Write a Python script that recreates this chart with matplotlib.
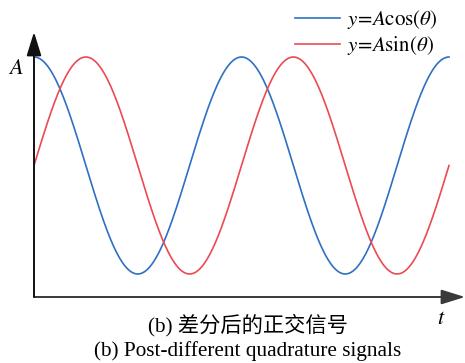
import numpy as np
import matplotlib
matplotlib.use("Agg")
import matplotlib.pyplot as plt

# data
A = 1.0
n_periods = 2
theta = np.linspace(0, 2 * np.pi * n_periods, 400)
y_cos = A * np.cos(theta)
y_sin = A * np.sin(theta)
labels = [r"$y\!=\!A\mathrm{cos}(\theta)$", r"$y\!=\!A\mathrm{sin}(\theta)$"]
colors = ["#2f6fc4", "#ec4a52"]
caption_cn = "(b) 差分后的正交信号"
caption_en = "(b) Post-different quadrature signals"

plt.rcParams["mathtext.fontset"] = "stix"
plt.rcParams["font.family"] = ["Liberation Serif", "Noto Sans CJK SC"]

W, H = 465, 363
fig = plt.figure(figsize=(W / 100, H / 100), dpi=100)
ax = fig.add_axes([34 / W, (H - 297) / H, (465 - 34) / W, (297 - 32) / H])

l1, = ax.plot(theta, y_cos, color=colors[0], lw=1.2, label=labels[0])
l2, = ax.plot(theta, y_sin, color=colors[1], lw=1.2, label=labels[1])

xmax = 4 * np.pi * 431 / 415
ax.set_xlim(0, xmax)
ax.set_ylim((165.5 - 297) / 108.5, (165.5 - 32) / 108.5)
for s in ax.spines.values():
    s.set_visible(False)
ax.set_xticks([])
ax.set_yticks([])

ax.annotate("", xy=(1, 0), xytext=(0, 0), xycoords="axes fraction",
            textcoords="axes fraction",
            arrowprops=dict(arrowstyle="-|>,head_length=1.45,head_width=0.45",
                            color="#3a3a3a", lw=1.4, shrinkA=0, shrinkB=0,
                            mutation_scale=10), annotation_clip=False)
ax.annotate("", xy=(0, 1), xytext=(0, 0), xycoords="axes fraction",
            textcoords="axes fraction",
            arrowprops=dict(arrowstyle="-|>,head_length=1.45,head_width=0.45",
                            color="#111111", lw=1.4, shrinkA=0, shrinkB=0,
                            mutation_scale=10), annotation_clip=False)

fig.text(16 / W, 1 - 70 / H, "$A$", fontsize=16, ha="center", va="center")
fig.text(441 / W, 1 - 320 / H, "$t$", fontsize=16, ha="center", va="center")
fig.text(248 / W, 1 - 325 / H, caption_cn, fontsize=15.3, ha="center", va="center")
fig.text(248 / W, 1 - 351 / H, caption_en, fontsize=15.3, ha="center", va="center")

fig.legend(handles=[l1, l2], loc="upper right", bbox_to_anchor=(437 / W, 1 - 8 / H),
           frameon=False, fontsize=15, handlelength=2.16, handletextpad=0.33,
           labelspacing=0.15, borderaxespad=0, borderpad=0)

fig.savefig("out.png", dpi=100)
